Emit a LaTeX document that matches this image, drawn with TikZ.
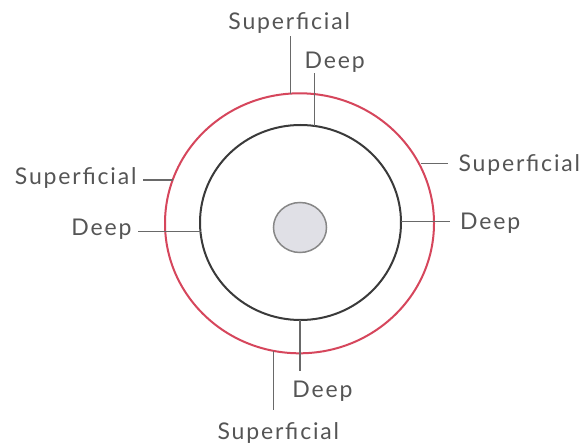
\documentclass[tikz,border=0pt]{standalone}
\usepackage{fontspec}
\setmainfont{Lato}[LetterSpace=8]
\usetikzlibrary{shapes.geometric}
\definecolor{ringred}{RGB}{214,70,92}
\definecolor{ringblack}{RGB}{58,58,58}
\definecolor{labelgray}{RGB}{85,85,85}
\definecolor{leadergray}{RGB}{105,105,105}
\definecolor{corefill}{RGB}{224,224,230}
\definecolor{coreedge}{RGB}{135,135,135}
\begin{document}
\begin{tikzpicture}[x=1pt,y=-1pt,
  lbl/.style={inner sep=0pt,text=labelgray,font=\fontsize{23}{26}\selectfont},
  leader/.style={draw=leadergray,line width=1.1pt},
  ring/.style={ellipse,draw,inner sep=0pt}]
\useasboundingbox (0,0) rectangle (586,446);
\fill[white] (0,0) rectangle (586,446);
% rings
\node[ring,draw=ringred,line width=2pt,minimum width=269pt,minimum height=260pt] (outer) at (299.5,223.3) {};
\node[ring,draw=ringblack,line width=2pt,minimum width=201pt,minimum height=195pt] (inner) at (300.5,222.5) {};
\node[ring,draw=coreedge,fill=corefill,line width=1.5pt,minimum width=53pt,minimum height=50pt] (core) at (300,227.5) {};
% attachment points
\coordinate (cTs) at (290.7,93.6);
\coordinate (cTd) at (314.3,125.9);
\coordinate (cLs) at (172.7,180);
\coordinate (cLd) at (200.5,231.2);
\coordinate (cRs) at (421,163.3);
\coordinate (cRd) at (401,221.5);
\coordinate (cBd) at (300,320);
\coordinate (cBs) at (273.3,350.8);
% labels
\node[lbl,anchor=base] (supT) at (289.2,29.3) {Superficial};
\node[lbl,anchor=base] (deepT) at (334.7,68.3) {Deep};
\node[lbl,anchor=base east] (supL) at (136.7,185) {Superficial};
\node[lbl,anchor=base east] (deepL) at (131.7,236) {Deep};
\node[lbl,anchor=base west] (supR) at (458.3,171.7) {Superficial};
\node[lbl,anchor=base west] (deepR) at (460,230) {Deep};
\node[lbl,anchor=base] (deepB) at (322.5,397.3) {Deep};
\node[lbl,anchor=base] (supB) at (278.3,439.3) {Superficial};
% leaders
\draw[leader,shorten >=3pt] (cTs) -- (cTs |- supT.south);
\draw[leader,shorten >=1pt] (cTd) -- (cTd |- deepT.south);
\draw[leader,shorten >=6pt] (cLs) -- (cLs -| supL.east);
\draw[leader,shorten >=6pt] (cLd) -- (cLd -| deepL.east);
\draw[leader,shorten >=10pt] (cRs) -- (cRs -| supR.west);
\draw[leader,shorten >=10pt] (cRd) -- (cRd -| deepR.west);
\draw[leader,shorten >=10pt] (cBd) -- (cBd |- deepB.north);
\draw[leader,shorten >=12pt] (cBs) -- (cBs |- supB.north);
\end{tikzpicture}
\end{document}
